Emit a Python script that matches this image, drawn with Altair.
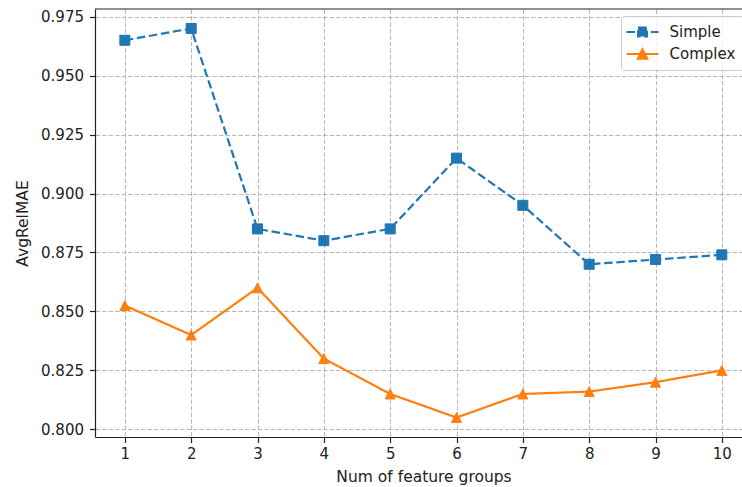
import altair as alt
import pandas as pd

# ---------------- data ----------------
x_vals = [1, 2, 3, 4, 5, 6, 7, 8, 9, 10]
simple_vals = [0.965, 0.970, 0.885, 0.880, 0.885, 0.915, 0.895, 0.870, 0.872, 0.874]
complex_vals = [0.8525, 0.840, 0.860, 0.830, 0.815, 0.805, 0.815, 0.816, 0.820, 0.825]
series_names = ["Simple", "Complex"]
series_colors = ["#1f77b4", "#ff7f0e"]
y_ticks = [0.800, 0.825, 0.850, 0.875, 0.900, 0.925, 0.950, 0.975]
x_ticks = x_vals

rows = []
for name, vals in zip(series_names, [simple_vals, complex_vals]):
    for xv, v in zip(x_vals, vals):
        rows.append({"x": xv, "y": v, "series": name})
df = pd.DataFrame(rows)

# ---------------- styling ----------------
W, H = 647, 428
FONT = "DejaVu Sans"
DARK = "#222222"

xscale = alt.Scale(domain=[0.55, 10.304], nice=False, zero=False)
yscale = alt.Scale(domain=[0.79675, 0.97825], nice=False, zero=False)

x_enc = alt.X(
    "x:Q", scale=xscale,
    axis=alt.Axis(values=x_ticks, format="d", title="Num of feature groups",
                  grid=True, labelPadding=4, titleX=328.5, titleY=39,
                  titleBaseline="middle", titleAlign="center"),
)
y_enc = alt.Y(
    "y:Q", scale=yscale,
    axis=alt.Axis(values=y_ticks, format=".3f", title="AvgRelMAE",
                  grid=True, labelPadding=6, titleX=-73, titleY=214,
                  titleAngle=270, titleAlign="center", titleBaseline="middle"),
)

line_dashes = {"Simple": [8.5, 3.7], "Complex": [1, 0]}
plot_shapes = {"Simple": "square", "Complex": "M0,-1L-1,1L1,1Z"}
plot_sizes = {"Simple": 100, "Complex": 100}

layers = []
for name, color in zip(series_names, series_colors):
    sub = alt.Chart(df).transform_filter(alt.datum.series == name)
    ln = sub.mark_line(color=color, strokeWidth=2.2, strokeDash=line_dashes[name]).encode(x=x_enc, y=y_enc)
    layers.append(ln)
for name, color in zip(series_names, series_colors):
    sub = alt.Chart(df).transform_filter(alt.datum.series == name)
    pt = sub.mark_point(shape=plot_shapes[name], filled=True, fill=color, stroke=color,
                        strokeWidth=1, size=plot_sizes[name], opacity=1).encode(x=x_enc, y=y_enc)
    layers.append(pt)

# top spine
top = alt.Chart(alt.Data(values=[{"f": 0}])).mark_rule(color=DARK, strokeWidth=1.2).encode(
    x=alt.value(0), x2=alt.value(W), y=alt.value(0)
)
layers.append(top)

# legend (line + marker symbols)
legend_paths = [
    "M-2,0H2M-0.56,-0.56H0.56V0.56H-0.56Z",
    "M-2,0H2M0,-0.6L-0.6,0.6L0.6,0.6Z",
]
legend_dashes = [[8.5, 3.7], [1, 0]]
leg = alt.Legend(
    title=None, orient="none", legendX=526, legendY=7,
    symbolSize=256, symbolStrokeWidth=2, symbolOpacity=1, symbolOffset=5.5,
    labelFont=FONT, labelFontSize=15, labelColor=DARK, labelOffset=18,
    padding=7, rowPadding=4,
    fillColor="rgba(255,255,255,0.8)", strokeColor="#cccccc", cornerRadius=3,
)
ghost = alt.Chart(df).transform_filter("false").mark_point(
    filled=True, opacity=1, size=256, strokeWidth=2
).encode(
    x=x_enc, y=y_enc,
    shape=alt.Shape("series:N", scale=alt.Scale(domain=series_names, range=legend_paths), legend=leg),
    fill=alt.Fill("series:N", scale=alt.Scale(domain=series_names, range=series_colors), legend=leg),
    stroke=alt.Stroke("series:N", scale=alt.Scale(domain=series_names, range=series_colors), legend=leg),
    strokeDash=alt.StrokeDash("series:N", scale=alt.Scale(domain=series_names, range=legend_dashes), legend=leg),
)
layers.append(ghost)

chart = alt.layer(*layers).properties(
    width=W, height=H,
    autosize=alt.AutoSizeParams(type="none"),
    padding={"left": 95, "top": 9, "right": 0, "bottom": 50},
    background="white",
).configure_view(stroke=None).configure_axis(
    labelFont=FONT, titleFont=FONT, labelFontSize=15, titleFontSize=15.5,
    titleFontWeight="normal", labelColor=DARK, titleColor=DARK,
    domainColor=DARK, domainWidth=1.2, tickColor=DARK, tickWidth=1.2, tickSize=5.5,
    gridColor="#b0b0b0", gridDash=[4.5, 2], gridWidth=0.9,
)

chart.save("out.html", embed_options={"renderer": "svg", "actions": False})
